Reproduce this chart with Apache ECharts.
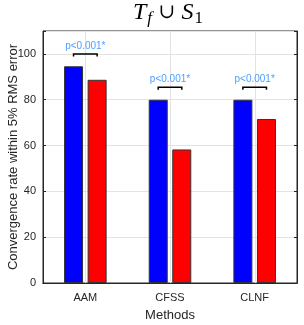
<!DOCTYPE html>
<html><head><meta charset="utf-8">
<script src="https://cdn.jsdelivr.net/npm/echarts@6/dist/echarts.min.js"></script>
<style>html,body{margin:0;padding:0;background:#fff}#c{width:304px;height:325px}</style>
</head><body><div id="c"></div>
<script>
var categories = ['AAM', 'CFSS', 'CLNF'];
var blueValues = [94.6, 80.0, 80.0];
var redValues = [88.7, 58.3, 71.6];
var bracketLevels = [100, 85.5, 85.5];
var pLabels = ['p<0.001*', 'p<0.001*', 'p<0.001*'];
var yTicks = [0, 20, 40, 60, 80, 100];

var FONT = 'Liberation Sans, Arial, sans-serif';
var TXT = '#262626';
var GRIDC = '#e3e3e3';
var BW = 19, GAP = 4.6;

var chart = echarts.init(document.getElementById('c'), null, {renderer: 'canvas'});
var bracketData = categories.map(function (c, i) { return [i, bracketLevels[i], pLabels[i]]; });
var vGridData = categories.map(function (c, i) { return [i, 0, 110]; });

chart.setOption({
  animation: false,
  title: {
    text: '{i|T}{s|f}{n| ∪ }{i|S}{r|1}',
    left: 133, top: -1, padding: 0,
    textStyle: {
      fontWeight: 'normal',
      rich: {
        i: {fontFamily: 'Liberation Serif, serif', fontStyle: 'italic', fontWeight: 'normal', fontSize: 24, color: '#000', lineHeight: 28},
        n: {fontFamily: 'DejaVu Serif, serif', fontWeight: 'normal', fontSize: 20, color: '#000', lineHeight: 28},
        s: {fontFamily: 'Liberation Serif, serif', fontStyle: 'italic', fontWeight: 'normal', fontSize: 17, color: '#000', padding: [12, 0, 0, 1], lineHeight: 28},
        r: {fontFamily: 'Liberation Serif, serif', fontWeight: 'normal', fontSize: 17, color: '#000', padding: [12, 0, 0, 1], lineHeight: 28}
      }
    }
  },
  grid: {left: 43, right: 7, top: 31, bottom: 42, outerBoundsMode: 'none', containLabel: false,
    show: true, borderColor: TXT, borderWidth: 1, backgroundColor: 'transparent'},
  xAxis: [{
    type: 'category', data: categories,
    name: 'Methods', nameLocation: 'middle', nameGap: 26, nameMoveOverlap: false,
    nameTextStyle: {fontFamily: FONT, fontSize: 13, color: TXT},
    axisLine: {lineStyle: {color: TXT, width: 1}},
    axisTick: {inside: true, alignWithLabel: true, length: 3, lineStyle: {color: TXT}},
    axisLabel: {fontFamily: FONT, fontSize: 11, color: TXT, margin: 9},
    splitLine: {show: false}
  }, {
    type: 'category', data: categories, position: 'top',
    axisLine: {show: true, lineStyle: {color: TXT}},
    axisTick: {inside: true, alignWithLabel: true, length: 3, lineStyle: {color: TXT}},
    axisLabel: {show: false}
  }],
  yAxis: [{
    type: 'value', min: 0, max: 110, interval: 20,
    name: 'Convergence rate within 5% RMS error', nameLocation: 'middle', nameGap: 23, nameMoveOverlap: false,
    nameTextStyle: {fontFamily: FONT, fontSize: 13, color: TXT},
    axisLine: {show: true, lineStyle: {color: TXT}},
    axisTick: {show: true, inside: true, length: 3, lineStyle: {color: TXT}},
    axisLabel: {fontFamily: FONT, fontSize: 11, color: TXT, margin: 7,
      formatter: function (v) { return yTicks.indexOf(v) >= 0 ? String(v) : ''; }},
    splitLine: {show: true, lineStyle: {color: GRIDC, width: 1}}
  }, {
    type: 'value', min: 0, max: 110, interval: 20, position: 'right',
    axisLine: {show: true, lineStyle: {color: TXT}},
    axisTick: {show: true, inside: true, length: 3, lineStyle: {color: TXT}},
    axisLabel: {show: false}, splitLine: {show: false}
  }],
  series: [{
    type: 'custom', data: vGridData, z: 1, silent: true,
    renderItem: function (params, api) {
      var a = api.coord([api.value(0), api.value(1)]);
      var b = api.coord([api.value(0), api.value(2)]);
      var x = Math.round(a[0]) + 0.5;
      return {type: 'line', shape: {x1: x, y1: a[1], x2: x, y2: b[1]}, style: {stroke: GRIDC, lineWidth: 1}};
    }
  }, {
    type: 'bar', data: blueValues, barWidth: BW, barGap: (GAP / BW * 100).toFixed(0) + '%', z: 3,
    itemStyle: {color: '#0000ff', borderColor: '#333', borderWidth: 1}
  }, {
    type: 'bar', data: redValues, barWidth: BW, z: 3,
    itemStyle: {color: '#ff0000', borderColor: '#333', borderWidth: 1}
  }, {
    type: 'custom', data: bracketData, z: 5,
    renderItem: function (params, api) {
      var p = api.coord([api.value(0), api.value(1)]);
      var off = (BW + GAP) / 2;
      var x1 = p[0] - off, x2 = p[0] + off, y = p[1];
      return {
        type: 'group', children: [
          {type: 'polyline', shape: {points: [[x1, y + 2.5], [x1, y], [x2, y], [x2, y + 2.5]]},
           style: {stroke: '#000', lineWidth: 1.5, fill: null}},
          {type: 'text', style: {text: bracketData[params.dataIndex][2], x: p[0], y: y - 8,
            textAlign: 'center', textVerticalAlign: 'middle', fontFamily: FONT, fontSize: 10, fill: '#4da0ff'}}
        ]
      };
    }
  }]
});
</script></body></html>
